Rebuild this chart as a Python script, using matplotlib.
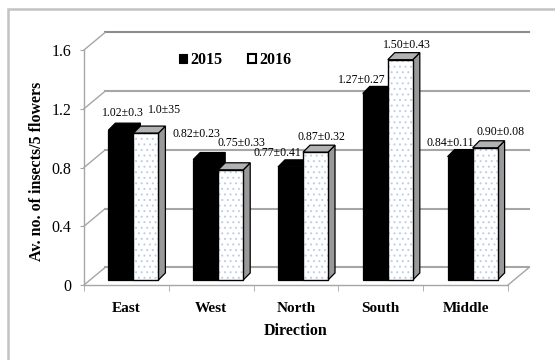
import matplotlib
matplotlib.use("Agg")
import matplotlib.pyplot as plt
from matplotlib.patches import Polygon, Rectangle, Patch

plt.rcParams['font.family'] = ['Liberation Serif', 'DejaVu Serif']
plt.rcParams['hatch.linewidth'] = 0.7

# average insects per 5 flowers by field direction
directions = ['East', 'West', 'North', 'South', 'Middle']
y2015 = [1.02, 0.82, 0.77, 1.27, 0.84]
y2016 = [1.00, 0.75, 0.87, 1.50, 0.90]
labels2015 = ['1.02±0.3', '0.82±0.23', '0.77±0.41', '1.27±0.27', '0.84±0.11']
labels2016 = ['1.0±35', '0.75±0.33', '0.87±0.32', '1.50±0.43', '0.90±0.08']
yticks = [0, 0.4, 0.8, 1.2, 1.6]

# label nudges in pixels (dx, dy) from the top of each bar
nudge2015 = [(2, 17), (-9, 26), (-13, 14), (-14, 13), (-10, 14)]
nudge2016 = [(19, 23), (11, 27), (6, 15), (7, 15), (15, 16)]

# fake 3d geometry, in data units
wall_dx, wall_dy = 0.25, 0.12      # depth of floor / back wall
bar_dx, bar_dy = 0.0825, 0.034     # bars sit a little behind the front edge
bar_w = 0.295
dep_dx, dep_dy = 0.0825, 0.048     # depth of each bar

grid_c = '#a6a6a6'

fig = plt.figure(figsize=(5.55, 3.6), dpi=100)
ax = fig.add_axes([84 / 555, 75 / 360, 424 / 555, 235 / 360])
ax.set_xlim(-0.5, 4.5)
ax.set_ylim(0, 1.6)

# outer chart border
fig.add_artist(Rectangle((8 / 555, -0.05), 1.1, 1.05 - 9 / 360,
                         transform=fig.transFigure, fill=False,
                         edgecolor='#c3c3c3', lw=1.8))

# back wall gridlines plus the slanted lines on the side wall
for v in yticks:
    c = '#8c8c8c' if v == yticks[-1] else grid_c
    ax.plot([-0.5 + wall_dx, 4.5 + wall_dx], [v + wall_dy, v + wall_dy],
            color=c, lw=1.5, clip_on=False, zorder=1)
    ax.plot([-0.5, -0.5 + wall_dx], [v, v + wall_dy],
            color=grid_c, lw=1.0, clip_on=False, zorder=1)

# floor right edge
ax.plot([4.5, 4.5 + wall_dx], [0, wall_dy], color=grid_c, lw=1.0,
        clip_on=False, zorder=1)


def box(x0, x1, base, top, front_fc, top_fc, side_fc, hatch=None):
    side = Polygon([(x1, base), (x1, top), (x1 + dep_dx, top + dep_dy),
                    (x1 + dep_dx, base + dep_dy)], closed=True,
                   facecolor=side_fc, edgecolor='black', lw=0.9,
                   clip_on=False, zorder=3)
    lid = Polygon([(x0, top), (x1, top), (x1 + dep_dx, top + dep_dy),
                   (x0 + dep_dx, top + dep_dy)], closed=True,
                  facecolor=top_fc, edgecolor='black', lw=0.9,
                  clip_on=False, zorder=3)
    ax.add_patch(side)
    ax.add_patch(lid)
    if hatch:
        ax.add_patch(Rectangle((x0, base), x1 - x0, top - base,
                               facecolor=front_fc, edgecolor='#bccdea',
                               hatch=hatch, lw=0, clip_on=False, zorder=3))
        ax.add_patch(Rectangle((x0, base), x1 - x0, top - base,
                               fill=False, edgecolor='black', lw=1.0,
                               clip_on=False, zorder=3))
    else:
        ax.add_patch(Rectangle((x0, base), x1 - x0, top - base,
                               facecolor=front_fc, edgecolor='black', lw=0.9,
                               clip_on=False, zorder=3))


for i in range(len(directions)):
    xm = i + bar_dx
    box(xm - bar_w, xm, bar_dy, bar_dy + y2015[i], 'black', 'black', 'black')
    box(xm, xm + bar_w, bar_dy, bar_dy + y2016[i], 'white', '#b2b2b2',
        '#999999', hatch='...')

    ax.annotate(labels2015[i], (xm - bar_w / 2, bar_dy + y2015[i]),
                xytext=nudge2015[i], textcoords='offset pixels',
                ha='center', va='center', fontsize=8.5, annotation_clip=False)
    ax.annotate(labels2016[i], (xm + bar_w / 2, bar_dy + y2016[i]),
                xytext=nudge2016[i], textcoords='offset pixels',
                ha='center', va='center', fontsize=8.5, annotation_clip=False)

# axes: front left edge and floor front edge
for s in ['top', 'right']:
    ax.spines[s].set_visible(False)
for s in ['left', 'bottom']:
    ax.spines[s].set_color(grid_c)
    ax.spines[s].set_linewidth(1.0)
    ax.spines[s].set_zorder(2)
ax.patch.set_visible(False)

ax.set_yticks(yticks)
ax.set_yticklabels(['0', '0.4', '0.8', '1.2', '1.6'], fontsize=11.5)
ax.tick_params(axis='y', length=3, color=grid_c, pad=6)

ax.set_xticks(range(len(directions)))
ax.set_xticklabels(directions, fontsize=11, fontweight='bold')
ax.set_xticks([i - 0.5 for i in range(len(directions) + 1)], minor=True)
ax.tick_params(axis='x', which='major', length=0, pad=12)
ax.tick_params(axis='x', which='minor', length=4.5, color=grid_c)

ax.text(0.5, -0.196, 'Direction', transform=ax.transAxes, ha='center',
        va='center', fontsize=11.5, fontweight='bold')
ax.text(-0.111, 0.485, 'Av. no. of insects/5 flowers', transform=ax.transAxes,
        ha='center', va='center', rotation=90, fontsize=11.5,
        fontweight='bold')

handles = [Patch(facecolor='black', edgecolor='black', lw=0.8),
           Patch(facecolor='white', edgecolor='black', lw=1.5)]
fig.legend(handles, ['2015', '2016'], loc='center',
           bbox_to_anchor=(235 / 555, 1 - 60 / 360), ncol=2, frameon=False,
           handlelength=0.5, handleheight=0.5, handletextpad=0.2,
           columnspacing=1.6, prop={'weight': 'bold', 'size': 11.5})

fig.savefig('out.png', dpi=100)
